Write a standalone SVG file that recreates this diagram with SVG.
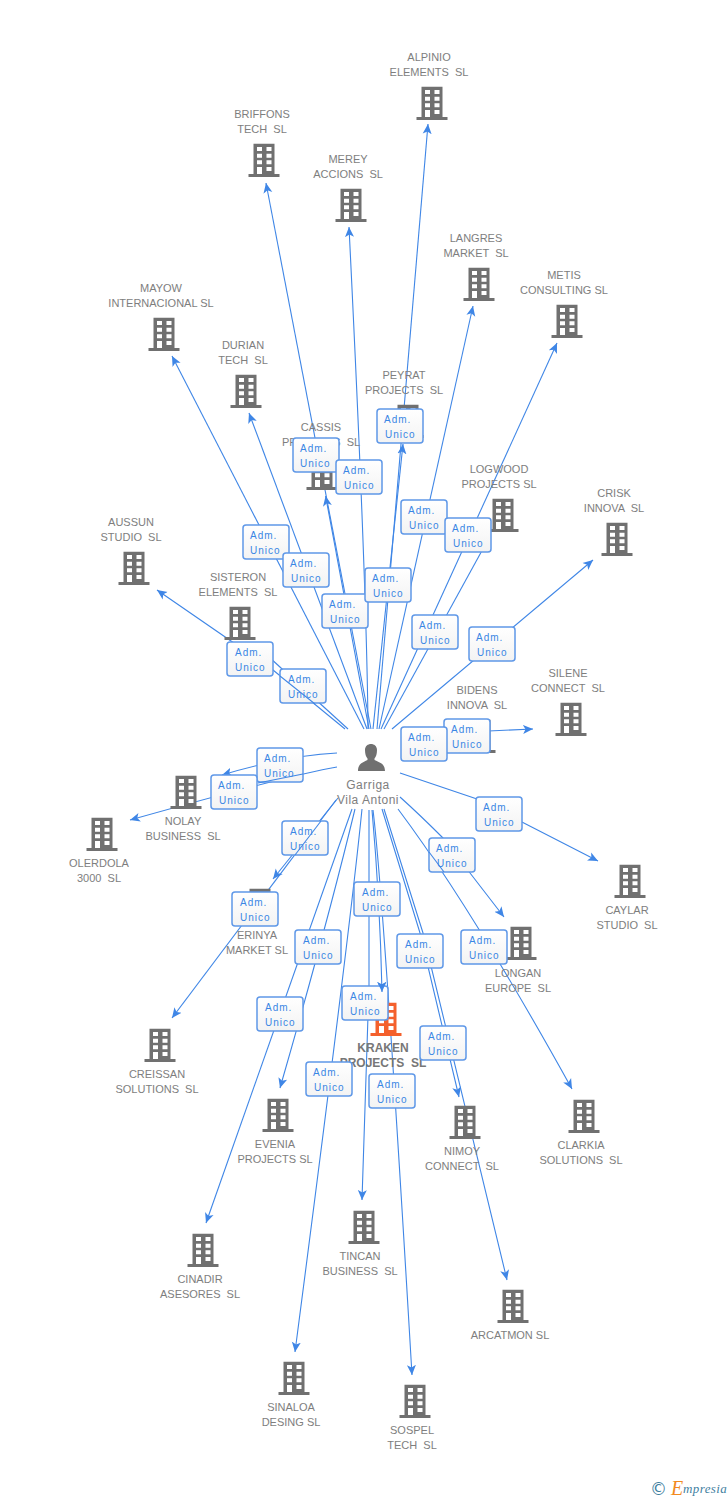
<svg xmlns="http://www.w3.org/2000/svg" width="728" height="1500" viewBox="0 0 728 1500">
<style>
.e{fill:none;stroke:#3f86e6;stroke-width:1.1;marker-end:url(#a)}
.o{fill:none;stroke:#3f86e6;stroke-width:1.1}
.l{font:11px "Liberation Sans",Arial,sans-serif;fill:#7e7e7e;text-anchor:middle;white-space:pre}
.k{font-weight:bold;font-size:12px;fill:#777}
.p{font:12px "Liberation Sans",Arial,sans-serif;fill:#7e7e7e;text-anchor:middle;letter-spacing:.5px}
.r{fill:url(#g);stroke:#5f98e8;stroke-width:1.5}
.t{font:10px "Liberation Sans",Arial,sans-serif;fill:#3a86e4;letter-spacing:1px}
.w{fill:#fff}
</style>
<defs>
<linearGradient id="g" x1="0" y1="0" x2="0" y2="1"><stop offset="0" stop-color="#fff"/><stop offset="1" stop-color="#f3f3f3"/></linearGradient>
<marker id="a" markerUnits="userSpaceOnUse" markerWidth="12" markerHeight="12" refX="10" refY="5" orient="auto" viewBox="0 0 12 10"><path d="M0,0.500 L10,5 L0,9.500 L2.500,5z" fill="#3f86e6"/></marker>
<symbol id="b" width="32" height="35" viewBox="-16 0 32 35" overflow="visible"><path d="M-10.500,.7H10.500V31H15.500V34H-15.500V31H-10.500z"/><path class="w" d="M-7,4h5v4h-5zM2.500,4h5v4h-5zM-7,10.700h5v4h-5zM2.500,10.700h5v4h-5zM-7,17.300h5v4h-5zM2.500,17.300h5v4h-5zM-7,24h5v7h-5zM2.500,24h5v4h-5z"/></symbol>
</defs>
<g id="connectors">
<path class="e" d="M377,729L428,124"/>
<path class="e" d="M371,729L266,183"/>
<path class="e" d="M368,729Q367,590 349,227"/>
<path class="e" d="M379,729L473,306"/>
<path class="e" d="M381,729L557,343"/>
<path class="e" d="M364,729L172,356"/>
<path class="e" d="M367,729L249,413"/>
<path class="e" d="M373,729L403,444"/>
<path class="e" d="M369,729L325.600,496"/>
<path class="e" d="M384,729L490,536"/>
<path class="e" d="M392,729L593,560"/>
<path class="e" d="M345,729L273,670L157,590"/>
<path class="e" d="M348,729L258,647"/>
<path class="e" d="M403,735L533,729"/>
<path class="o" d="M403,738L425,742"/>
<path class="e" d="M337,753Q290,755 222,775"/>
<path class="e" d="M337,767Q290,775 130,820"/>
<path class="e" d="M400,773L477,799L598,861"/>
<path class="e" d="M400,797Q420,815 443,838L504,917"/>
<path class="e" d="M398,809Q470,905 572,1089"/>
<path class="e" d="M338,798L273,879"/>
<path class="e" d="M336,800L172,1018"/>
<path class="e" d="M355,809Q327,925 280,1088"/>
<path class="e" d="M352,809L206,1223"/>
<path class="e" d="M372,810Q380,900 382,992"/>
<path class="e" d="M382,809L420,933L459,1097"/>
<path class="e" d="M384,809L423,933L507,1280"/>
<path class="e" d="M369,810L369,985L362,1200"/>
<path class="e" d="M362,809Q350,930 295,1352"/>
<path class="e" d="M373,810Q384,900 412,1375"/>
</g>
<g id="n-alpinio"><use href="#b" x="416" y="86" fill="#707070"/><text class="l" x="429" y="61">ALPINIO</text><text class="l" x="429" y="76">ELEMENTS  SL</text></g>
<g id="n-briffons"><use href="#b" x="248" y="143" fill="#707070"/><text class="l" x="262" y="118">BRIFFONS</text><text class="l" x="262" y="133">TECH  SL</text></g>
<g id="n-merey"><use href="#b" x="335" y="188" fill="#707070"/><text class="l" x="348" y="163">MEREY</text><text class="l" x="348" y="178">ACCIONS  SL</text></g>
<g id="n-langres"><use href="#b" x="463" y="267" fill="#707070"/><text class="l" x="476" y="242">LANGRES</text><text class="l" x="476" y="257">MARKET  SL</text></g>
<g id="n-metis"><use href="#b" x="551" y="304" fill="#707070"/><text class="l" x="564" y="279">METIS</text><text class="l" x="564" y="294">CONSULTING SL</text></g>
<g id="n-mayow"><use href="#b" x="148" y="317" fill="#707070"/><text class="l" x="161" y="292">MAYOW</text><text class="l" x="161" y="307">INTERNACIONAL SL</text></g>
<g id="n-durian"><use href="#b" x="230" y="374" fill="#707070"/><text class="l" x="243" y="349">DURIAN</text><text class="l" x="243" y="364">TECH  SL</text></g>
<g id="n-peyrat"><use href="#b" x="392" y="404" fill="#707070"/><text class="l" x="404" y="379">PEYRAT</text><text class="l" x="404" y="394">PROJECTS  SL</text></g>
<g id="n-cassis"><use href="#b" x="306" y="456" fill="#707070"/><text class="l" x="321" y="431">CASSIS</text><text class="l" x="321" y="446">PROJECTS  SL</text></g>
<g id="n-logwood"><use href="#b" x="487" y="498" fill="#707070"/><text class="l" x="499" y="473">LOGWOOD</text><text class="l" x="499" y="488">PROJECTS SL</text></g>
<g id="n-crisk"><use href="#b" x="601" y="522" fill="#707070"/><text class="l" x="614" y="497">CRISK</text><text class="l" x="614" y="512">INNOVA  SL</text></g>
<g id="n-aussun"><use href="#b" x="118" y="551" fill="#707070"/><text class="l" x="131" y="526">AUSSUN</text><text class="l" x="131" y="541">STUDIO  SL</text></g>
<g id="n-sisteron"><use href="#b" x="224" y="606" fill="#707070"/><text class="l" x="238" y="581">SISTERON</text><text class="l" x="238" y="596">ELEMENTS  SL</text></g>
<g id="n-silene"><use href="#b" x="555" y="702" fill="#707070"/><text class="l" x="568" y="677">SILENE</text><text class="l" x="568" y="692">CONNECT  SL</text></g>
<g id="n-bidens"><use href="#b" x="464" y="719" fill="#707070"/><text class="l" x="477" y="694">BIDENS</text><text class="l" x="477" y="709">INNOVA  SL</text></g>
<g id="n-nolay"><use href="#b" x="170" y="775" fill="#707070"/><text class="l" x="183" y="825">NOLAY</text><text class="l" x="183" y="840">BUSINESS  SL</text></g>
<g id="n-olerdola"><use href="#b" x="86" y="817" fill="#707070"/><text class="l" x="99" y="867">OLERDOLA</text><text class="l" x="99" y="882">3000  SL</text></g>
<g id="n-caylar"><use href="#b" x="614" y="864" fill="#707070"/><text class="l" x="627" y="914">CAYLAR</text><text class="l" x="627" y="929">STUDIO  SL</text></g>
<g id="n-erinya"><use href="#b" x="244" y="888" fill="#707070"/><text class="l" x="257" y="939">ERINYA</text><text class="l" x="257" y="954">MARKET SL</text></g>
<g id="n-longan"><use href="#b" x="505" y="926" fill="#707070"/><text class="l" x="518" y="977">LONGAN</text><text class="l" x="518" y="992">EUROPE  SL</text></g>
<g id="n-kraken"><use href="#b" x="370" y="1002" fill="#f4602c"/><text class="l k" x="383" y="1052">KRAKEN</text><text class="l k" x="383" y="1067">PROJECTS  SL</text></g>
<g id="n-creissan"><use href="#b" x="144" y="1028" fill="#707070"/><text class="l" x="157" y="1078">CREISSAN</text><text class="l" x="157" y="1093">SOLUTIONS  SL</text></g>
<g id="n-evenia"><use href="#b" x="262" y="1098" fill="#707070"/><text class="l" x="275" y="1148">EVENIA</text><text class="l" x="275" y="1163">PROJECTS SL</text></g>
<g id="n-clarkia"><use href="#b" x="568" y="1099" fill="#707070"/><text class="l" x="581" y="1149">CLARKIA</text><text class="l" x="581" y="1164">SOLUTIONS  SL</text></g>
<g id="n-nimoy"><use href="#b" x="449" y="1105" fill="#707070"/><text class="l" x="462" y="1155">NIMOY</text><text class="l" x="462" y="1170">CONNECT  SL</text></g>
<g id="n-tincan"><use href="#b" x="348" y="1210" fill="#707070"/><text class="l" x="360" y="1260">TINCAN</text><text class="l" x="360" y="1275">BUSINESS  SL</text></g>
<g id="n-cinadir"><use href="#b" x="187" y="1233" fill="#707070"/><text class="l" x="200" y="1283">CINADIR</text><text class="l" x="200" y="1298">ASESORES  SL</text></g>
<g id="n-arcatmon"><use href="#b" x="497" y="1289" fill="#707070"/><text class="l" x="510" y="1339">ARCATMON SL</text></g>
<g id="n-sinaloa"><use href="#b" x="278" y="1361" fill="#707070"/><text class="l" x="291" y="1411">SINALOA</text><text class="l" x="291" y="1426">DESING SL</text></g>
<g id="n-sospel"><use href="#b" x="399" y="1384" fill="#707070"/><text class="l" x="412" y="1434">SOSPEL</text><text class="l" x="412" y="1449">TECH  SL</text></g>
<g id="n-person"><path d="M365,750C365,746 368,744 371,744C374,744 377,746 377,750C377,754 376,757 374.500,758.500V760C378,762 385,763 385,771H358C358,763 364,762 367.500,760V758.500C366,757 365,754 365,750z" fill="#707070"/><text class="p" x="368" y="789">Garriga</text><text class="p" x="368" y="804">Vila Antoni</text></g>
<g id="edge-labels">
<g transform="translate(293,438)"><rect class="r" width="46" height="34" rx="3"/><text class="t" x="7" y="13.500">Adm.</text><text class="t" x="7" y="28.500">Unico</text></g>
<g transform="translate(336,460)"><rect class="r" width="46" height="34" rx="3"/><text class="t" x="7" y="13.500">Adm.</text><text class="t" x="8" y="28.500">Unico</text></g>
<g transform="translate(377,409)"><rect class="r" width="46" height="34" rx="3"/><text class="t" x="7" y="13.500">Adm.</text><text class="t" x="8" y="28.500">Unico</text></g>
<g transform="translate(401,500)"><rect class="r" width="46" height="34" rx="3"/><text class="t" x="7" y="13.500">Adm.</text><text class="t" x="8" y="28.500">Unico</text></g>
<g transform="translate(445,518)"><rect class="r" width="46" height="34" rx="3"/><text class="t" x="7" y="13.500">Adm.</text><text class="t" x="8" y="28.500">Unico</text></g>
<g transform="translate(243,525)"><rect class="r" width="46" height="34" rx="3"/><text class="t" x="7" y="13.500">Adm.</text><text class="t" x="7" y="28.500">Unico</text></g>
<g transform="translate(283,553)"><rect class="r" width="46" height="34" rx="3"/><text class="t" x="7" y="13.500">Adm.</text><text class="t" x="8" y="28.500">Unico</text></g>
<g transform="translate(322,594)"><rect class="r" width="46" height="34" rx="3"/><text class="t" x="7" y="13.500">Adm.</text><text class="t" x="8" y="28.500">Unico</text></g>
<g transform="translate(365,568)"><rect class="r" width="46" height="34" rx="3"/><text class="t" x="7" y="13.500">Adm.</text><text class="t" x="8" y="28.500">Unico</text></g>
<g transform="translate(412,615)"><rect class="r" width="46" height="34" rx="3"/><text class="t" x="7" y="13.500">Adm.</text><text class="t" x="8" y="28.500">Unico</text></g>
<g transform="translate(469,627)"><rect class="r" width="46" height="34" rx="3"/><text class="t" x="7" y="13.500">Adm.</text><text class="t" x="8" y="28.500">Unico</text></g>
<g transform="translate(227,642)"><rect class="r" width="46" height="34" rx="3"/><text class="t" x="8" y="13.500">Adm.</text><text class="t" x="8" y="28.500">Unico</text></g>
<g transform="translate(280,669)"><rect class="r" width="46" height="34" rx="3"/><text class="t" x="8" y="13.500">Adm.</text><text class="t" x="8" y="28.500">Unico</text></g>
<g transform="translate(444,719)"><rect class="r" width="46" height="34" rx="3"/><text class="t" x="7" y="13.500">Adm.</text><text class="t" x="8" y="28.500">Unico</text></g>
<g transform="translate(401,727)"><rect class="r" width="46" height="34" rx="3"/><text class="t" x="7" y="13.500">Adm.</text><text class="t" x="8" y="28.500">Unico</text></g>
<g transform="translate(257,748)"><rect class="r" width="46" height="34" rx="3"/><text class="t" x="7" y="13.500">Adm.</text><text class="t" x="7" y="28.500">Unico</text></g>
<g transform="translate(211,775)"><rect class="r" width="46" height="34" rx="3"/><text class="t" x="7" y="13.500">Adm.</text><text class="t" x="8" y="28.500">Unico</text></g>
<g transform="translate(282,821)"><rect class="r" width="46" height="34" rx="3"/><text class="t" x="8" y="13.500">Adm.</text><text class="t" x="8" y="28.500">Unico</text></g>
<g transform="translate(476,797)"><rect class="r" width="46" height="34" rx="3"/><text class="t" x="7" y="13.500">Adm.</text><text class="t" x="8" y="28.500">Unico</text></g>
<g transform="translate(429,838)"><rect class="r" width="46" height="34" rx="3"/><text class="t" x="7" y="13.500">Adm.</text><text class="t" x="8" y="28.500">Unico</text></g>
<g transform="translate(232,892)"><rect class="r" width="46" height="34" rx="3"/><text class="t" x="8" y="13.500">Adm.</text><text class="t" x="8" y="28.500">Unico</text></g>
<g transform="translate(354,882)"><rect class="r" width="46" height="34" rx="3"/><text class="t" x="8" y="13.500">Adm.</text><text class="t" x="8" y="28.500">Unico</text></g>
<g transform="translate(295,930)"><rect class="r" width="46" height="34" rx="3"/><text class="t" x="8" y="13.500">Adm.</text><text class="t" x="8" y="28.500">Unico</text></g>
<g transform="translate(397,934)"><rect class="r" width="46" height="34" rx="3"/><text class="t" x="8" y="13.500">Adm.</text><text class="t" x="8" y="28.500">Unico</text></g>
<g transform="translate(461,930)"><rect class="r" width="46" height="34" rx="3"/><text class="t" x="8" y="13.500">Adm.</text><text class="t" x="8" y="28.500">Unico</text></g>
<g transform="translate(257,997)"><rect class="r" width="46" height="34" rx="3"/><text class="t" x="8" y="13.500">Adm.</text><text class="t" x="8" y="28.500">Unico</text></g>
<g transform="translate(342,986)"><rect class="r" width="46" height="34" rx="3"/><text class="t" x="8" y="13.500">Adm.</text><text class="t" x="8" y="28.500">Unico</text></g>
<g transform="translate(420,1026)"><rect class="r" width="46" height="34" rx="3"/><text class="t" x="8" y="13.500">Adm.</text><text class="t" x="8" y="28.500">Unico</text></g>
<g transform="translate(306,1062)"><rect class="r" width="46" height="34" rx="3"/><text class="t" x="7" y="13.500">Adm.</text><text class="t" x="8" y="28.500">Unico</text></g>
<g transform="translate(369,1074)"><rect class="r" width="46" height="34" rx="3"/><text class="t" x="8" y="13.500">Adm.</text><text class="t" x="8" y="28.500">Unico</text></g>
</g>
<g id="connectors-over">
<path class="o" d="M258,783L303,774"/>
<path class="o" d="M280,676L315,704"/>
<path class="o" d="M321,821L295,855"/>
<path class="o" d="M429,852L444,872"/>
<path class="e" d="M381.800,984L382,992"/>
</g>
<g id="logo">
<text x="650" y="1495" font-family="'DejaVu Sans',sans-serif" font-size="17" fill="#3f7f9f">©</text>
<text x="671" y="1495" font-family="'Liberation Serif',serif" font-style="italic" font-size="20" fill="#f28a1e">E</text>
<text x="683" y="1493" font-family="'Liberation Serif',serif" font-style="italic" font-size="13" letter-spacing=".4" fill="#3f7f9f">mpresia</text>
</g>
</svg>
